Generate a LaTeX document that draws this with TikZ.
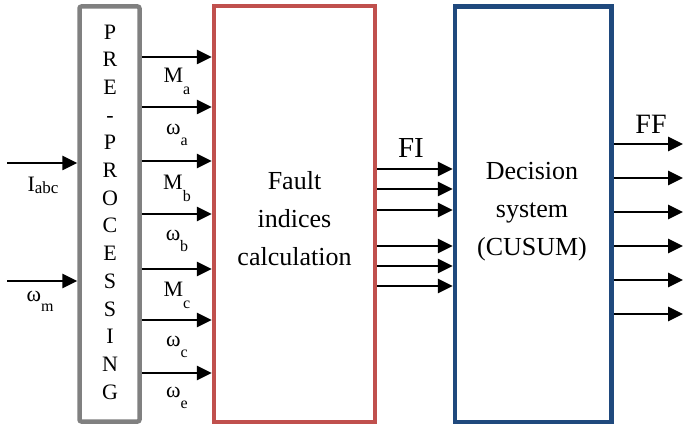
\documentclass[tikz,border=0pt]{standalone}
\usepackage{fontspec}
\setmainfont{Liberation Serif}
\usetikzlibrary{arrows.meta}
\definecolor{boxgray}{RGB}{128,128,128}
\definecolor{boxred}{RGB}{192,80,77}
\definecolor{boxblue}{RGB}{31,73,125}
\newcommand\lsub[3]{\raisebox{#1}{\fontsize{#2}{#2}\selectfont #3}}
\begin{document}
\begin{tikzpicture}[x=1pt,y=-1pt,
  blk/.style={draw, line width=4.5pt, fill=white, inner sep=0pt},
  arr/.style={line width=2.6pt, -{Triangle[length=15pt,width=14pt]}},
  lbl/.style={font=\fontsize{22}{22}\selectfont, inner sep=0pt, anchor=base},
  big/.style={font=\fontsize{26}{38}\selectfont, align=center, inner sep=0pt},
]
\useasboundingbox (0,0) rectangle (683,430);
% boxes
\node[blk, draw=boxgray, rounded corners=2pt, minimum width=60pt, minimum height=415pt] (pre) at (109.5,214) {};
\node[blk, draw=boxred, minimum width=161pt, minimum height=416pt] (fic) at (294.5,214) {};
\node[blk, draw=boxblue, minimum width=156.5pt, minimum height=415.5pt] (dec) at (533.25,214.25) {};
% box texts
\node[font=\fontsize{22}{27.7}\selectfont, align=center, inner sep=0pt] (pretxt) at (110,212)
  {P\\R\\E\\-\\P\\R\\O\\C\\E\\S\\S\\I\\N\\G};
\node[big] (fictxt) at (294.5,218.5) {Fault\\indices\\calculation};
\node[big] (dectxt) at (532,211.5) {Decision\\system\\(CUSUM)};
% inputs
\coordinate (iin) at (7,163);
\coordinate (win) at (7,281);
\draw[arr] (iin) -- (pre.west |- iin);
\draw[arr] (win) -- (pre.west |- win);
\node[lbl] (labc) at (43,192) {I\lsub{-2pt}{17}{abc}};
\node[lbl] (lwm) at (40,302) {ω\lsub{-10pt}{16}{m}};
% pre -> fault indices
\foreach \y in {57,107,161,214,269,320,373}
  \draw[arr] (pre.east |- 0,\y) -- (fic.west |- 0,\y);
\node[lbl] (lMa) at (177,83) {M\lsub{-12pt}{16}{a}};
\node[lbl] (lwa) at (177,135) {ω\lsub{-11pt}{16}{a}};
\node[lbl] (lMb) at (177,190) {M\lsub{-12pt}{16}{b}};
\node[lbl] (lwb) at (177,241) {ω\lsub{-11pt}{16}{b}};
\node[lbl] (lMc) at (177,297) {M\lsub{-12pt}{16}{c}};
\node[lbl] (lwc) at (177,347) {ω\lsub{-11pt}{16}{c}};
\node[lbl] (lwe) at (177,397) {ω\lsub{-11pt}{16}{e}};
% FI
\foreach \y in {169,189,210,246,266,286}
  \draw[arr] (fic.east |- 0,\y) -- (dec.west |- 0,\y);
\node[font=\fontsize{29}{29}\selectfont, inner sep=0pt, anchor=base] (fi) at (411,158) {FI};
% FF
\foreach \y [count=\i] in {144,178,212,246,280,314} {
  \coordinate (ff\i) at (683,\y);
  \draw[arr] (dec.east |- ff\i) -- (ff\i);
}
\node[font=\fontsize{28}{28}\selectfont, inner sep=0pt, anchor=base] (ff) at (651,134) {FF};
\end{tikzpicture}
\end{document}
